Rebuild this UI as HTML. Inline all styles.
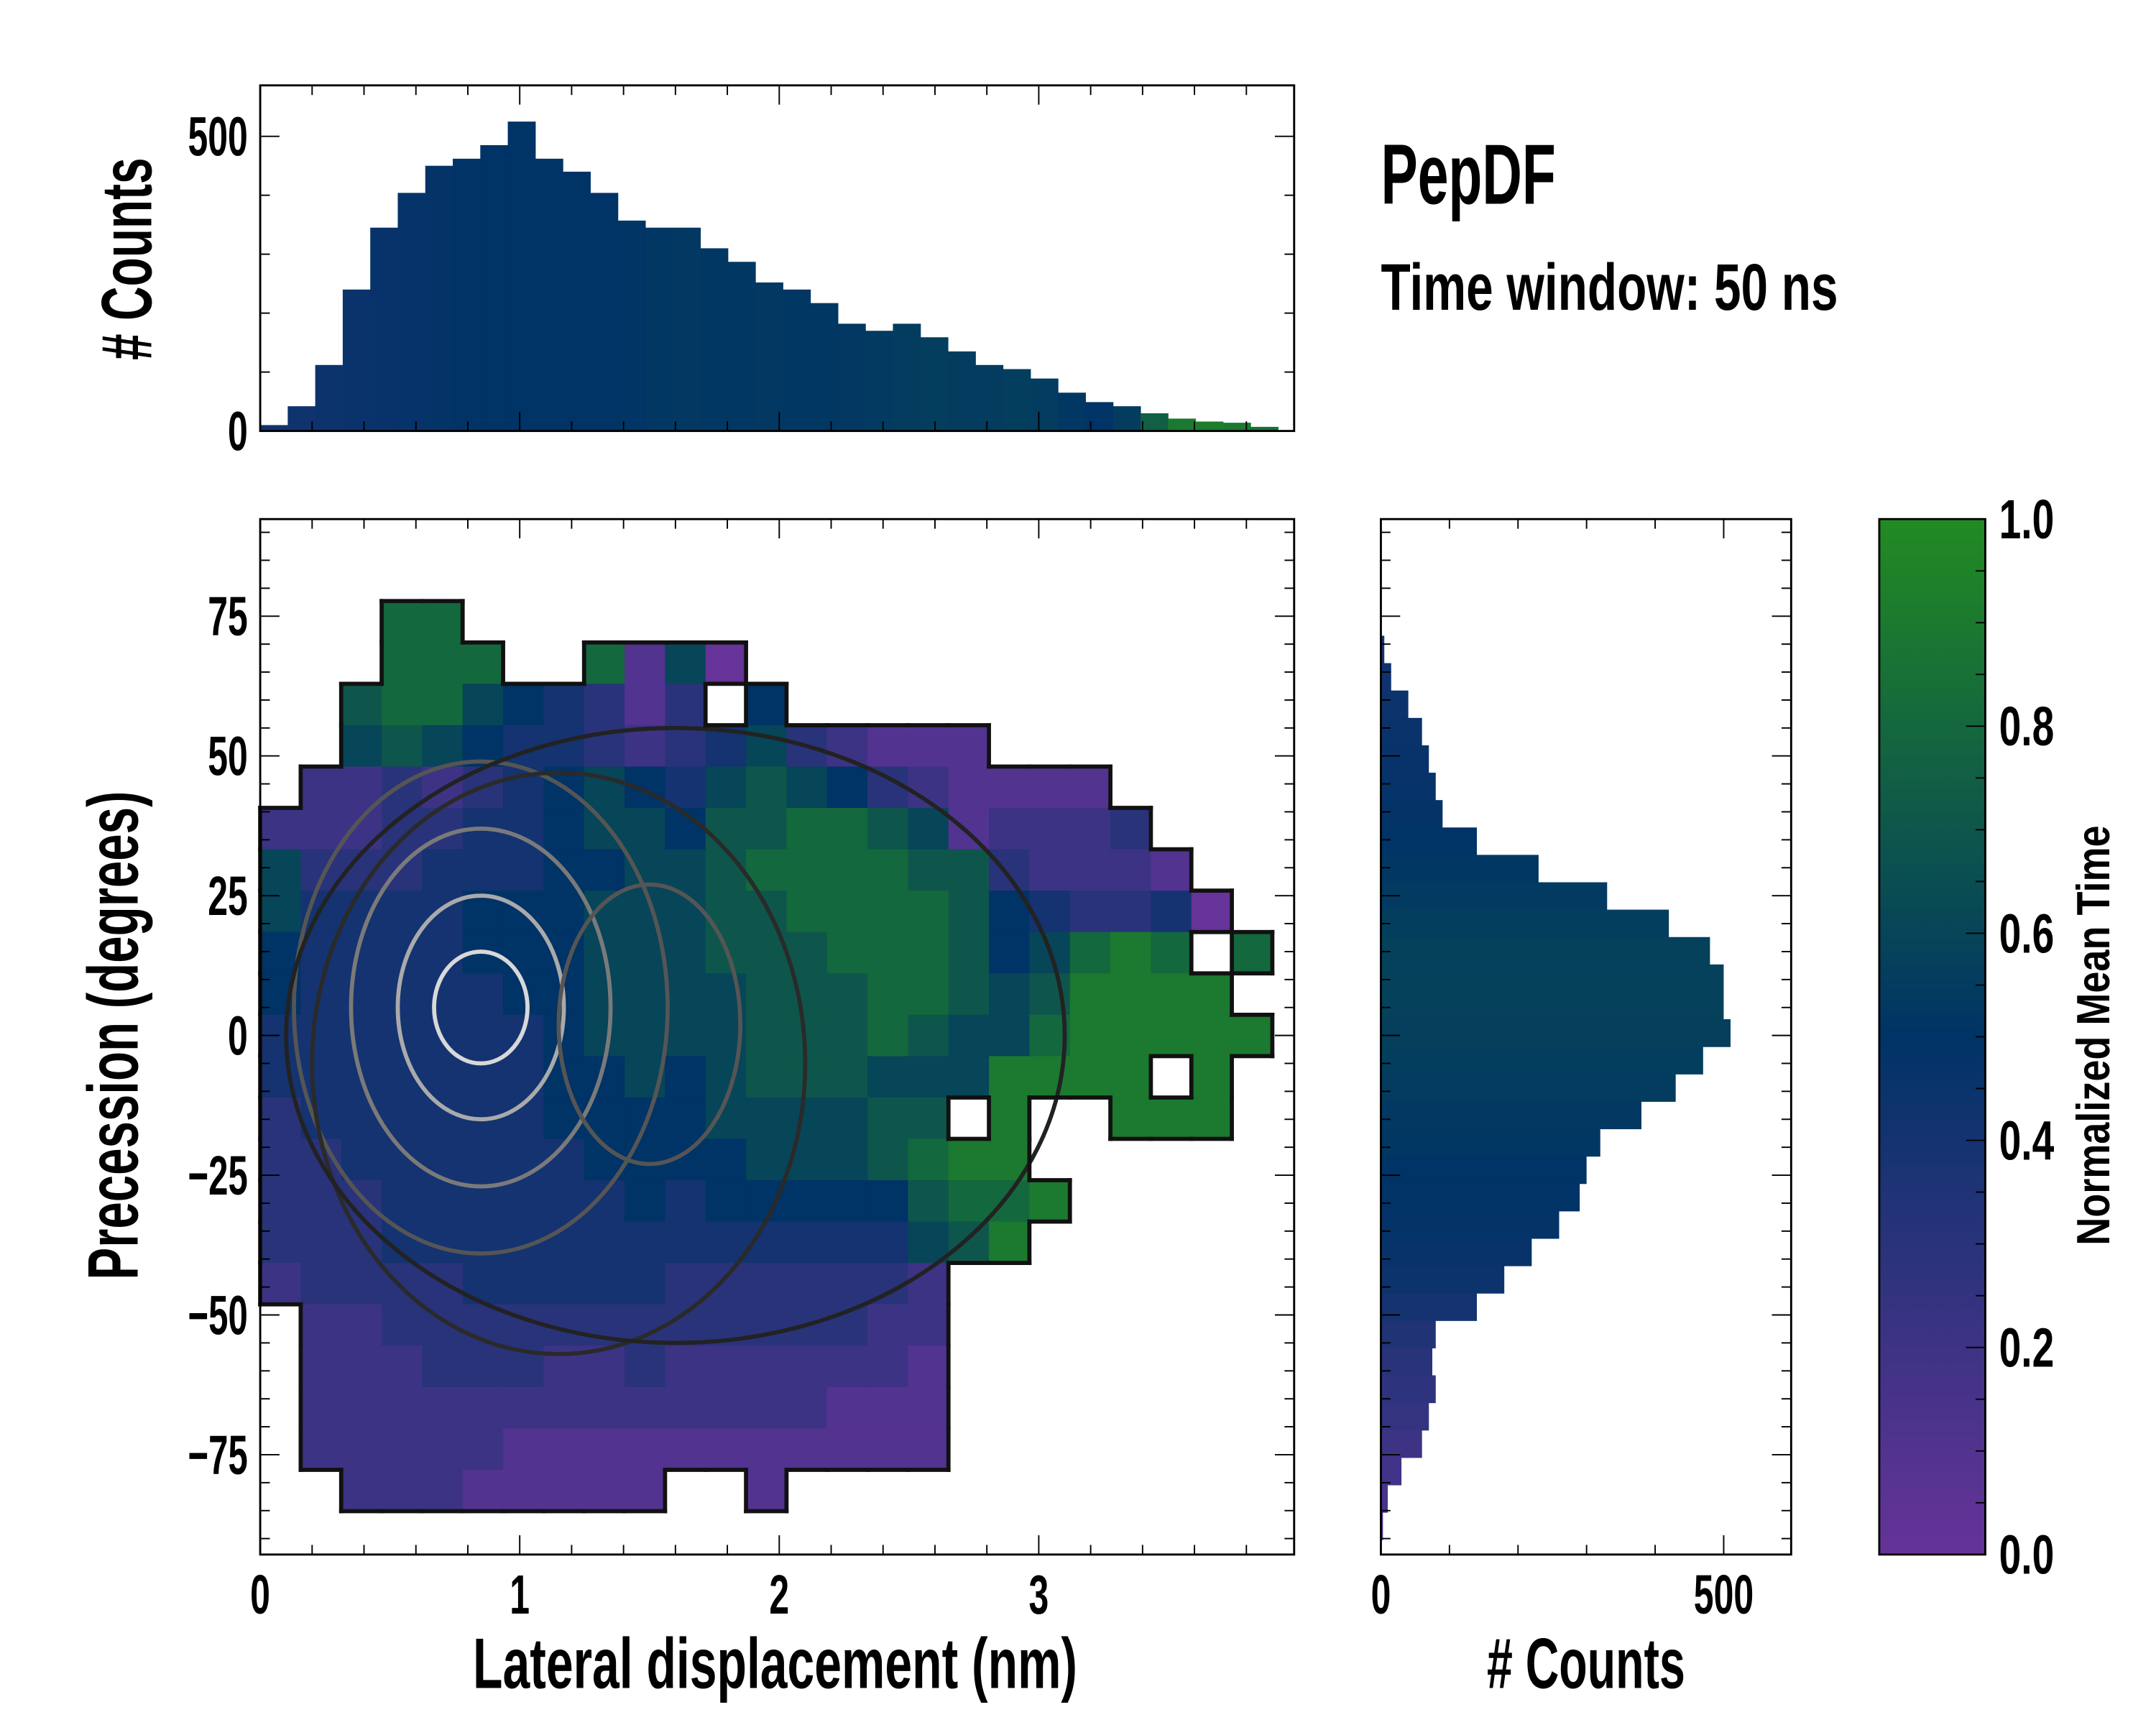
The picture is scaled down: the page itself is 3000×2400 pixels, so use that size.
<!DOCTYPE html>
<html><head><meta charset="utf-8"><style>
html,body{margin:0;padding:0;background:#fff;}
svg{display:block;}
text{font-family:"Liberation Sans Narrow","Liberation Sans",sans-serif;font-weight:bold;fill:#000;}
</style></head><body>
<svg id="chart" xmlns="http://www.w3.org/2000/svg" width="3000" height="2400" viewBox="0 0 1566 1252.8">
<g id="heat"></g>
<g id="contours"></g>
<g id="outline"></g>
<g id="tophist"></g>
<g id="righthist"></g>
<g id="cbar"></g>
<g id="axes"></g>
<text x="1003" y="148" font-size="62" textLength="127" lengthAdjust="spacingAndGlyphs">PepDF</text>
<text x="1003" y="225" font-size="48" textLength="332" lengthAdjust="spacingAndGlyphs">Time window: 50 ns</text>
<text x="563" y="1226" font-size="52" text-anchor="middle" textLength="439" lengthAdjust="spacingAndGlyphs">Lateral displacement (nm)</text>
<text x="1152" y="1226" font-size="52" text-anchor="middle" textLength="144" lengthAdjust="spacingAndGlyphs"># Counts</text>
<text transform="translate(100,752) rotate(-90)" font-size="52" text-anchor="middle" textLength="355" lengthAdjust="spacingAndGlyphs">Precession (degrees)</text>
<text transform="translate(110,188) rotate(-90)" font-size="52" text-anchor="middle" textLength="147" lengthAdjust="spacingAndGlyphs"># Counts</text>
<text transform="translate(1532,752) rotate(-90)" font-size="34" text-anchor="middle" textLength="305" lengthAdjust="spacingAndGlyphs">Normalized Mean Time</text>
</svg>
<script>
// ---- data ----
const gridRows = [
".........................",
".........................",
"...88....................",
"...888..8160.............",
"..788654313.5............",
"..6765443234632111.......",
".22323456546765321111....",
"2223344566577887612223...",
"63334445566788887732221..",
"644445556667788887543340.",
"54444555666777888756898 8",
"544444556666777887679999.",
"4444444566667778766899999",
"4444444556567776669999 9.",
"34444445555666677 9..999.",
"3344444455556667899......",
"33344444454555557889.....",
"3334444444444444679......",
"23333444443333332........",
".2233333333333322........",
".2223332232222221........",
".2222222222222111........",
".2222211111111111........",
"..22211111..1............",
"........................."
];
const xBinWidth = 0.156;
const yTop = 92.5, yBinWidth = 7.4;

const topCounts = [10,42,112,240,345,404,450,462,485,525,462,440,404,357,345,345,310,287,252,240,217,182,170,182,159,135,112,105,89,65,49,42,30,21,16,14,7];
const topTimes  = [0.42,0.42,0.44,0.45,0.46,0.47,0.48,0.49,0.5,0.5,0.5,0.5,0.5,0.51,0.52,0.53,0.52,0.52,0.53,0.52,0.52,0.53,0.54,0.55,0.56,0.55,0.55,0.56,0.55,0.52,0.5,0.55,0.75,0.9,0.92,0.9,0.85];
const topBinWidth = 0.106;

const rightCounts = [5,15,40,60,70,80,90,140,230,330,420,480,500,500,510,470,430,380,320,300,290,260,220,180,140,80,75,80,70,60,30,10,3];
const rightTimes  = [0.4,0.42,0.44,0.45,0.46,0.47,0.48,0.5,0.52,0.54,0.56,0.58,0.58,0.58,0.57,0.56,0.55,0.53,0.52,0.5,0.49,0.48,0.46,0.44,0.4,0.35,0.3,0.28,0.25,0.2,0.18,0.15,0.12];
const rightTop = 71.5, rightBinWidth = 4.9;

const contourCenters = [[0.85,5],[0.85,5],[0.85,5],[0.85,5],[1.5,2],[1.15,-5],[1.6,0]];
const contourRadii   = [[0.18,10],[0.32,20],[0.5,32],[0.72,44],[0.35,25],[0.95,52],[1.5,55]];
const contourShades  = ["#d8d8d8","#aaaaaa","#7a7a7a","#555555","#555555","#2a2a2a","#222222"];

const xTicks = [0,1,2,3];
const yTicks = [75,50,25,0,-25,-50,-75];
const topTicks = [0,500];
const rightTicks = [0,500];
const cbarTicks = ["0.0","0.2","0.4","0.6","0.8","1.0"];

// ---- scales ----
const xs = v => 189 + v*188.5;
const ys = d => 752 - d*4.06;
const tys = c => 313 - c*0.428;
const rxs = c => 1003 + c*0.498;
const NS="http://www.w3.org/2000/svg";
function cmap(t){
  const stops=[[0,[102,51,153]],[0.5,[0,51,102]],[1,[34,139,34]]];
  t=Math.max(0,Math.min(1,t));
  let a=stops[0],b=stops[1];
  if(t>0.5){a=stops[1];b=stops[2];}
  const f=(t-a[0])/(b[0]-a[0]);
  const c=a[1].map((v,i)=>Math.round(v+(b[1][i]-v)*f));
  return `rgb(${c[0]},${c[1]},${c[2]})`;
}
function mk(tag,attrs,parent){const e=document.createElementNS(NS,tag);for(const k in attrs)e.setAttribute(k,attrs[k]);parent.appendChild(e);return e;}

// heatmap
const heat=document.getElementById('heat');
const outl=document.getElementById('outline');
function filled(i,j){if(i<0||i>=gridRows.length)return false;const ch=gridRows[i][j];return ch!==undefined&&ch>='0'&&ch<='9';}
gridRows.forEach((row,i)=>{
  for(let j=0;j<row.length;j++){
    if(!filled(i,j)) continue;
    const ch=row[j];
    const x=xs(j*xBinWidth), x2=xs((j+1)*xBinWidth);
    const y=ys(yTop-i*yBinWidth), y2=ys(yTop-(i+1)*yBinWidth);
    const r=mk('rect',{x:x,y:y,width:x2-x+0.4,height:y2-y+0.4,fill:cmap(+ch/10)},heat);
    
    
    const edges=[];
    if(!filled(i-1,j)) edges.push([x,y,x2,y]);
    if(!filled(i+1,j)) edges.push([x,y2,x2,y2]);
    if(j===0||!filled(i,j-1)) edges.push([x,y,x,y2]);
    if(!filled(i,j+1)) edges.push([x2,y,x2,y2]);
    edges.forEach(e=>{mk('line',{x1:e[0],y1:e[1],x2:e[2],y2:e[3],stroke:'#111','stroke-width':3,'stroke-linecap':'square'},outl);});
  }
});
// contours
const cont=document.getElementById('contours');
contourCenters.forEach((c,i)=>{
  const e=mk('ellipse',{cx:xs(c[0]),cy:ys(c[1]),rx:contourRadii[i][0]*188.5,ry:contourRadii[i][1]*4.06,fill:'none',stroke:contourShades[i],'stroke-width':3},cont);
  
  
});
// top hist
const th=document.getElementById('tophist');
topCounts.forEach((c,i)=>{
  const x=xs(i*topBinWidth), x2=xs((i+1)*topBinWidth);
  const r=mk('rect',{x:x,y:tys(c),width:x2-x+0.3,height:313-tys(c),fill:cmap(topTimes[i])},th);
  
  
});
// right hist
const rh=document.getElementById('righthist');
rightCounts.forEach((c,i)=>{
  const y=ys(rightTop-i*rightBinWidth), y2=ys(rightTop-(i+1)*rightBinWidth);
  const r=mk('rect',{x:1003,y:y,width:rxs(c)-1003,height:y2-y+0.3,fill:cmap(rightTimes[i])},rh);
  
  
});
// colorbar
const cb=document.getElementById('cbar');
const defs=mk('defs',{},cb);
const lg=mk('linearGradient',{id:'cg',x1:0,y1:1,x2:0,y2:0},defs);
[0,0.5,1].forEach(t=>mk('stop',{offset:t,'stop-color':cmap(t)},lg));
const cr=mk('rect',{x:1365,y:377,width:77,height:752,fill:'url(#cg)',stroke:'#000','stroke-width':1.5},cb);


cbarTicks.forEach((t,i)=>{
  const y=1129-i*752/5;
  mk('line',{x1:1428,x2:1442,y1:y,y2:y,stroke:'#000','stroke-width':1},cb);
  const tx=mk('text',{x:1452,y:y+14,'font-size':40,textLength:40,lengthAdjust:'spacingAndGlyphs'},cb);tx.textContent=t;
  
  
});
for(let k=0;k<=20;k++){const y=1129-k*752/20; if(k%4) mk('line',{x1:1435,x2:1442,y1:y,y2:y,stroke:'#000','stroke-width':1},cb);}

// axes
const ax=document.getElementById('axes');
function frame(x,y,w,h,name){const r=mk('rect',{x:x,y:y,width:w,height:h,fill:'none',stroke:'#000','stroke-width':1.5},ax);
  
  }
frame(189,62,751,251,'top-hist-frame');
frame(189,377,751,752,'main-plot-frame');
frame(1003,377,298,752,'right-hist-frame');
function ln(x1,y1,x2,y2){mk('line',{x1,y1,x2,y2,stroke:'#000','stroke-width':1},ax);}
function lbl(x,y,t,anchor,name){
  const w=t.length*14.5;
  const e=mk('text',{x:x,y:y,'font-size':40,'text-anchor':anchor,textLength:w,lengthAdjust:'spacingAndGlyphs'},ax);e.textContent=t;
  
  }
for(let v=0;v<=3.95;v+=0.2){const x=xs(v);const major=Math.abs(v-Math.round(v))<1e-6;const L=major?14:7;
  ln(x,1129,x,1129-L);ln(x,377,x,377+L);ln(x,313,x,313-L);ln(x,62,x,62+L);}
xTicks.forEach(v=>lbl(xs(v),1172,String(v),'middle','x-tick-label'));
for(let d=-90;d<=90;d+=5){const y=ys(d);const major=d%25===0;const L=major?14:7;
  ln(189,y,189+L,y);ln(940,y,940-L,y);ln(1003,y,1003+L,y);ln(1301,y,1301-L,y);}
yTicks.forEach(d=>lbl(180,ys(d)+14,d<0?'\u2212'+(-d):String(d),'end','y-tick-label'));
for(let c=0;c<=550;c+=100){const y=tys(c);const major=c%500===0;const L=major?14:7;ln(189,y,189+L,y);ln(940,y,940-L,y);}
topTicks.forEach(c=>lbl(180,tys(c)+14,String(c),'end','top-y-tick-label'));
for(let c=0;c<=590;c+=100){const x=rxs(c);const major=c%500===0;const L=major?14:7;ln(x,1129,x,1129-L);ln(x,377,x,377+L);}
rightTicks.forEach(c=>lbl(rxs(c),1172,String(c),'middle','right-x-tick-label'));
</script>
</body></html>
